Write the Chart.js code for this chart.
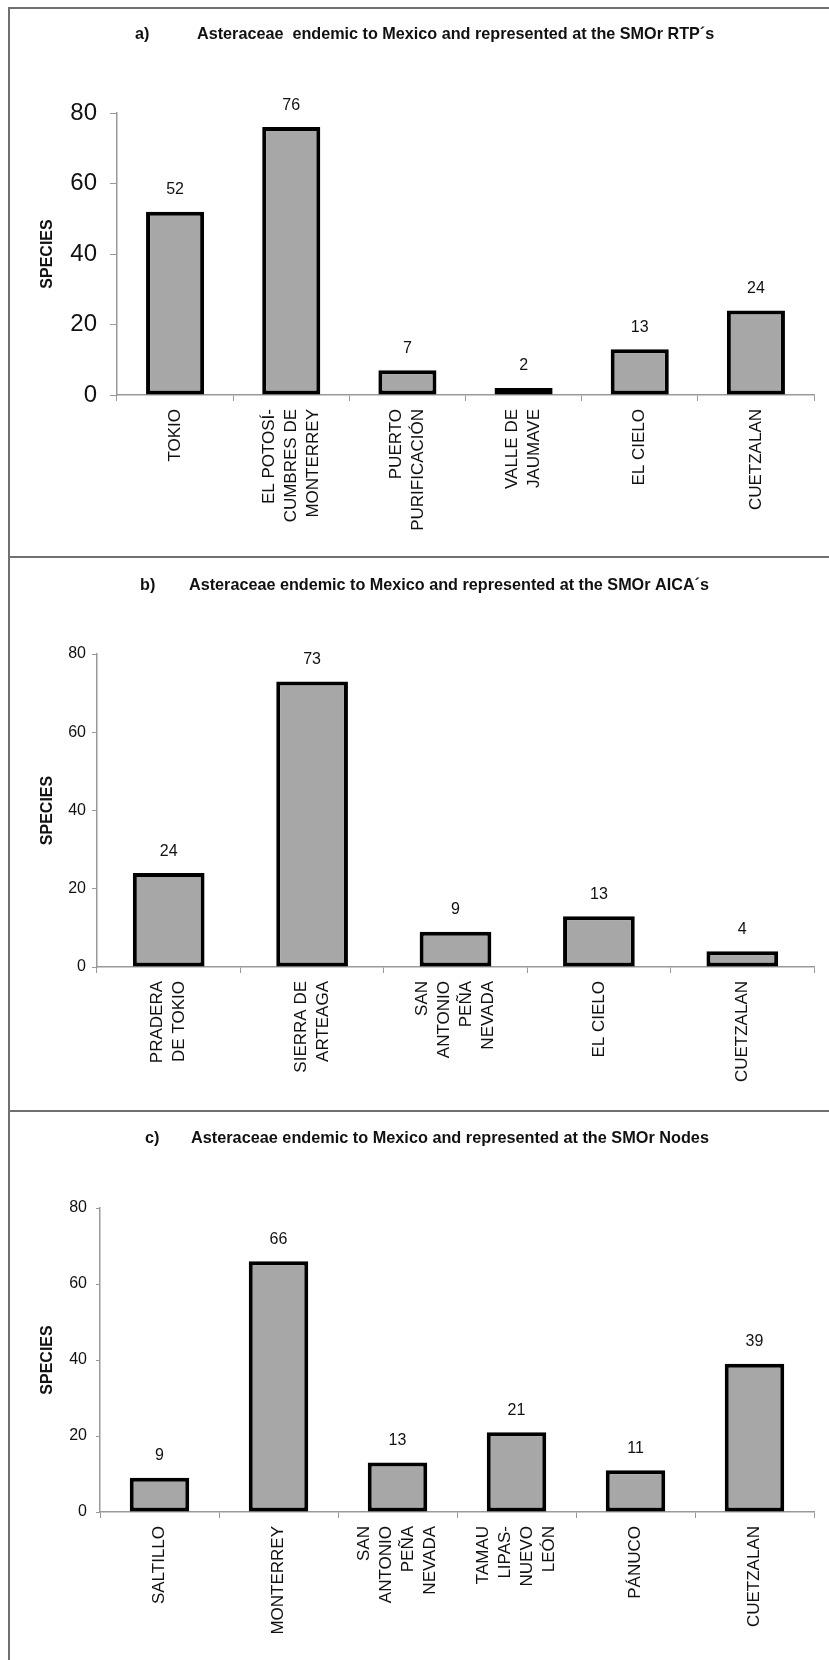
<!DOCTYPE html>
<html>
<head>
<meta charset="utf-8">
<script src="https://cdn.jsdelivr.net/npm/chart.js@4.4.0/dist/chart.umd.min.js"></script>
<style>
  body { margin: 0; background: #fff; width: 829px; height: 1660px; overflow: hidden; position: relative; }
  .panel { position: absolute; left: 0; width: 829px; }
  .frame { position: absolute; left: 8px; top: 7px; width: 840px; height: 1700px;
           border-left: 2px solid #707070; border-top: 2px solid #707070; }
  .rule { position: absolute; left: 8px; width: 829px; height: 2px; background: #707070; }
</style>
</head>
<body>
<div class="panel" style="top:8px;height:549px"><canvas id="chartA"></canvas></div>
<div class="panel" style="top:557px;height:554px"><canvas id="chartB"></canvas></div>
<div class="panel" style="top:1111px;height:549px"><canvas id="chartC"></canvas></div>
<div class="frame"></div>
<div class="rule" style="top:556px"></div>
<div class="rule" style="top:1110px"></div>
<script>
// a) RTP's
const rtpLabels = [['TOKIO'], ['EL POTOSÍ-', 'CUMBRES DE', 'MONTERREY'], ['PUERTO', 'PURIFICACIÓN'],
                   ['VALLE DE', 'JAUMAVE'], ['EL CIELO'], ['CUETZALAN']];
const rtpSpecies = [52, 76, 7, 2, 13, 24];

// b) AICA's
const aicaLabels = [['PRADERA', 'DE TOKIO'], ['SIERRA DE', 'ARTEAGA'], ['SAN', 'ANTONIO', 'PEÑA', 'NEVADA'],
                    ['EL CIELO'], ['CUETZALAN']];
const aicaSpecies = [24, 73, 9, 13, 4];

// c) Nodes
const nodeLabels = [['SALTILLO'], ['MONTERREY'], ['SAN', 'ANTONIO', 'PEÑA', 'NEVADA'],
                    ['TAMAU', 'LIPAS-', 'NUEVO', 'LEÓN'], ['PÁNUCO'], ['CUETZALAN']];
const nodeSpecies = [9, 66, 13, 21, 11, 39];

const yMin = 0, yMax = 80, yStep = 20;

const ARIAL = '"Liberation Sans", Arial, sans-serif';

// numbers over the bars
const valueLabels = {
  id: 'valueLabels',
  afterDatasetsDraw(chart) {
    const ctx = chart.ctx;
    const meta = chart.getDatasetMeta(0);
    ctx.save();
    ctx.font = '16px ' + ARIAL;
    ctx.fillStyle = '#111';
    ctx.textAlign = 'center';
    ctx.textBaseline = 'middle';
    meta.data.forEach((bar, i) => {
      ctx.fillText(chart.data.datasets[0].data[i], bar.x, bar.y - 22);
    });
    ctx.restore();
  }
};

// multi-line rotated labels centred on their tick
const centerLines = {
  id: 'centerLines',
  beforeDraw(chart) {
    const items = chart.scales.x.getLabelItems();
    items.forEach(it => {
      if (it._centered) return;
      const n = Array.isArray(it.label) ? it.label.length : 1;
      it.textOffset -= (n - 1) * it.font.lineHeight / 2;
      it._centered = true;
    });
  }
};

// "a)      Asteraceae ..." heading, text squeezed to the width it has in the figure
const panelTitle = {
  id: 'panelTitle',
  afterDraw(chart, args, opts) {
    const ctx = chart.ctx;
    ctx.save();
    ctx.font = 'bold 16px ' + ARIAL;
    const w = ctx.measureText(opts.text).width;
    const size = Math.min(17, 16 * opts.width / w);
    ctx.font = 'bold ' + size.toFixed(2) + 'px ' + ARIAL;
    ctx.fillStyle = '#111';
    ctx.textBaseline = 'middle';
    ctx.fillText(opts.letter, opts.lx, opts.y);
    ctx.fillText(opts.text, opts.tx, opts.y);
    ctx.restore();
  }
};

function makeChart(id, labels, values, cfg) {
  return new Chart(document.getElementById(id), {
    type: 'bar',
    data: {
      labels: labels,
      datasets: [{
        data: values,
        backgroundColor: '#a7a7a7',
        borderColor: '#000',
        borderWidth: 4,
        borderSkipped: false,
        barPercentage: 1,
        categoryPercentage: 0.5
      }]
    },
    options: {
      responsive: true,
      maintainAspectRatio: false,
      animation: false,
      layout: { padding: { left: 0, right: 15, top: cfg.top, bottom: 0 } },
      plugins: {
        legend: { display: false },
        tooltip: { enabled: false },
        panelTitle: cfg.title
      },
      scales: {
        x: {
          afterFit: s => { s.height = cfg.xHeight; },
          grid: { display: true, drawOnChartArea: false, tickLength: 6, color: '#999', offset: true },
          border: { display: true, color: '#999', width: 1.5 },
          ticks: {
            autoSkip: false, minRotation: 90, maxRotation: 90, padding: 8,
            color: '#111', font: { family: ARIAL, size: 17, lineHeight: 1.3 }
          }
        },
        y: {
          min: yMin, max: yMax,
          afterFit: s => { s.width = cfg.yWidth; },
          grid: { display: true, drawOnChartArea: false, tickLength: cfg.tickLen, color: '#999' },
          border: { display: true, color: '#999', width: 1.5 },
          ticks: { stepSize: yStep, padding: cfg.tickPad, color: '#111', font: cfg.tickFont },
          title: {
            display: true, text: 'SPECIES', color: '#111',
            font: { family: ARIAL, size: 16, weight: 'bold', lineHeight: 1.2 },
            padding: { top: 38, bottom: 0 }
          }
        }
      }
    },
    plugins: [centerLines, valueLabels, panelTitle]
  });
}

makeChart('chartA', rtpLabels, rtpSpecies, {
  top: 105, xHeight: 162, yWidth: 117, tickLen: 7, tickPad: 13,
  tickFont: { family: ARIAL, size: 24 },
  title: { letter: 'a)', text: "Asteraceae  endemic to Mexico and represented at the SMOr RTP´s",
           lx: 135, tx: 197, y: 27, width: 518 }
});

makeChart('chartB', aicaLabels, aicaSpecies, {
  top: 97, xHeight: 144, yWidth: 97, tickLen: 5, tickPad: 6,
  tickFont: { family: ARIAL, size: 16 },
  title: { letter: 'b)', text: "Asteraceae endemic to Mexico and represented at the SMOr AICA´s",
           lx: 140, tx: 189, y: 29, width: 521 }
});

makeChart('chartC', nodeLabels, nodeSpecies, {
  top: 97, xHeight: 148, yWidth: 100, tickLen: 4, tickPad: 9,
  tickFont: { family: ARIAL, size: 16 },
  title: { letter: 'c)', text: "Asteraceae endemic to Mexico and represented at the SMOr Nodes",
           lx: 145, tx: 191, y: 28, width: 518 }
});
</script>
</body>
</html>
